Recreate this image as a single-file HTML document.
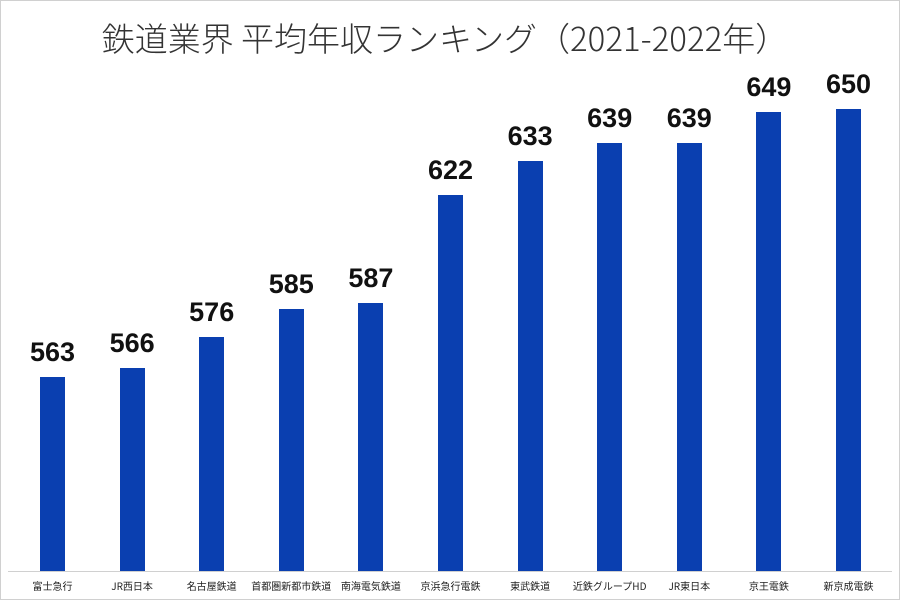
<!DOCTYPE html>
<html><head><meta charset="utf-8"><style>
body{margin:0;width:900px;height:600px;background:#fff;overflow:hidden;position:relative;font-family:"Liberation Sans","Noto Sans CJK JP",sans-serif}
.frame{position:absolute;left:0;top:0;width:898px;height:598px;border:1px solid #d0d0d0}
.title{position:absolute;left:0;width:890px;top:16px;text-align:center;font-size:33px;color:#333;font-family:"Noto Sans CJK JP",sans-serif;font-weight:300;line-height:42px;white-space:nowrap}
.bar{position:absolute;width:25px;background:#0a3fb0;bottom:29px}
.v{position:absolute;width:90px;text-align:center;font-size:27px;font-weight:bold;color:#111;line-height:30px}
.l{position:absolute;width:90px;text-align:center;font-size:10px;color:#222;top:578px;font-family:"Noto Sans CJK JP",sans-serif}
.axis{position:absolute;left:8px;width:884px;top:571px;height:1px;background:#d0d0d0}
</style></head><body>
<div class="frame"></div>
<div class="title">鉄道業界 平均年収ランキング（2021-2022年）</div>
<div class="axis"></div>
<div id="c"></div>
<script>
var d=[["富士急行",563],["JR西日本",566],["名古屋鉄道",576],["首都圏新都市鉄道",585],["南海電気鉄道",587],["京浜急行電鉄",622],["東武鉄道",633],["近鉄グループHD",639],["JR東日本",639],["京王電鉄",649],["新京成電鉄",650]];
var h="";
d.forEach(function(e,i){var x=40+i*79.6;var top=377-(e[1]-563)*3.08;
h+='<div class="bar" style="left:'+x+'px;top:'+top+'px"></div>';
h+='<div class="v" style="left:'+(x-32.5)+'px;top:'+(top-40)+'px">'+e[1]+'</div>';
h+='<div class="l" style="left:'+(x-32.5)+'px">'+e[0]+'</div>';});
document.getElementById("c").innerHTML=h;
</script>
</body></html>
